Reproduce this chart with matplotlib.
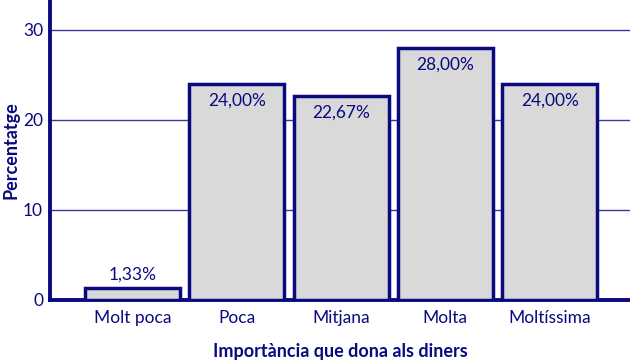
import matplotlib.pyplot as plt

categories = ["Molt poca", "Poca", "Mitjana", "Molta", "Moltíssima"]
values = [1.33, 24.00, 22.67, 28.00, 24.00]
value_labels = ["1,33%", "24,00%", "22,67%", "28,00%", "24,00%"]

navy = "#0a0a80"
grid_navy = "#3a3a9a"
fill = "#d9d9d9"

plt.rcParams["font.family"] = ["Lato", "DejaVu Sans"]

fig = plt.figure(figsize=(6.3, 3.63), dpi=100)
ax = fig.add_axes([50 / 630, 63 / 363, 580 / 630, 300 / 363])

x = range(len(categories))
ax.bar(x, values, width=0.91, color=fill, edgecolor=navy, linewidth=2.5, zorder=3)

for xi, v, lab in zip(x, values, value_labels):
    if v < 5:
        ax.text(xi, v + 0.6, lab, ha="center", va="bottom", color=navy, fontsize=12.5, zorder=4)
    else:
        ax.text(xi, v - 1.9, lab, ha="center", va="center", color=navy, fontsize=12.5, zorder=4)

ax.set_xlim(-0.79, 4.77)
ax.set_ylim(0, 33.33)
ax.set_yticks([0, 10, 20, 30])
ax.set_xticks(list(x))
ax.set_xticklabels(categories)
ax.yaxis.grid(True, color=grid_navy, linewidth=1.0, zorder=0)
ax.set_axisbelow(True)

for s in ["top", "right"]:
    ax.spines[s].set_visible(False)
for s in ["left", "bottom"]:
    ax.spines[s].set_color(navy)
    ax.spines[s].set_linewidth(2.8)

ax.tick_params(axis="both", length=0, colors=navy, labelsize=12.5)
ax.tick_params(axis="y", pad=5)
ax.tick_params(axis="x", pad=7)

# axis titles placed in figure pixels
fig.text(11 / 630, 1 - 150 / 363, "Percentatge", rotation=90, ha="center", va="center",
         color=navy, fontsize=13, fontweight="bold")
fig.text(340 / 630, 1 - 352 / 363, "Importància que dona als diners", ha="center", va="center",
         color=navy, fontsize=13, fontweight="bold")

fig.savefig("out.png", dpi=100)
